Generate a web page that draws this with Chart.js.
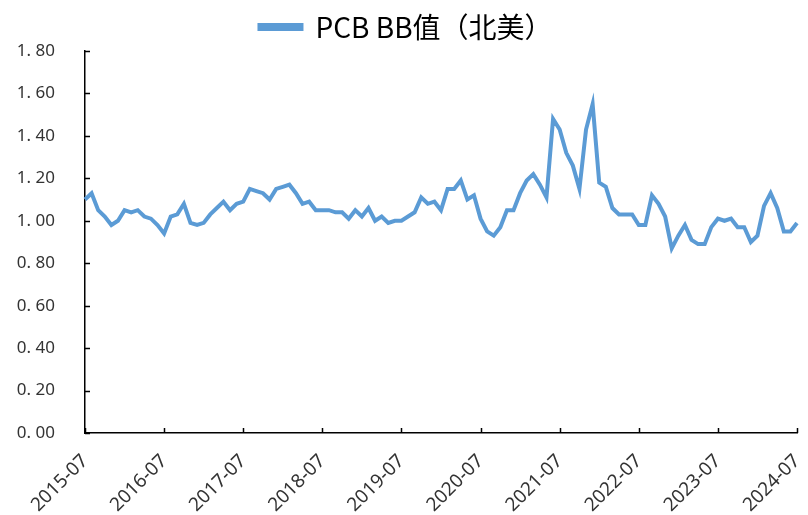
<!DOCTYPE html>
<html>
<head>
<meta charset="utf-8">
<script src="https://cdn.jsdelivr.net/npm/chart.js@4/dist/chart.umd.min.js"></script>
<style>
  html, body { margin: 0; padding: 0; background: #fff; }
  #wrap { width: 808px; height: 515px; }
</style>
</head>
<body>
<div id="wrap"><canvas id="bbChart"></canvas></div>
<script>
var seriesName = 'PCB BB值（北美）';
var startYear = 2015, startMonth = 7, monthCount = 109;
var bbValues = [
    1.10, 1.13, 1.05, 1.02, 0.98, 1.00, 1.05, 1.04, 1.05, 1.02, 1.01, 0.98,
    0.94, 1.02, 1.03, 1.08, 0.99, 0.98, 0.99, 1.03, 1.06, 1.09, 1.05, 1.08,
    1.09, 1.15, 1.14, 1.13, 1.10, 1.15, 1.16, 1.17, 1.13, 1.08, 1.09, 1.05,
    1.05, 1.05, 1.04, 1.04, 1.01, 1.05, 1.02, 1.06, 1.00, 1.02, 0.99, 1.00,
    1.00, 1.02, 1.04, 1.11, 1.08, 1.09, 1.05, 1.15, 1.15, 1.19, 1.10, 1.12,
    1.01, 0.95, 0.93, 0.97, 1.05, 1.05, 1.13, 1.19, 1.22, 1.17, 1.11, 1.48,
    1.43, 1.32, 1.26, 1.15, 1.43, 1.55, 1.18, 1.16, 1.06, 1.03, 1.03, 1.03,
    0.98, 0.98, 1.12, 1.08, 1.02, 0.87, 0.93, 0.98, 0.91, 0.89, 0.89, 0.97,
    1.01, 1.00, 1.01, 0.97, 0.97, 0.90, 0.93, 1.07, 1.13, 1.06, 0.95, 0.95,
    0.99
];
var yMin = 0, yMax = 1.8, yStep = 0.2;

// month labels, e.g. 2015-07
var months = [];
for (var i = 0; i < monthCount; i++) {
    var m = startMonth - 1 + i;
    var y = startYear + Math.floor(m / 12);
    var mm = (m % 12) + 1;
    months.push(y + '-' + (mm < 10 ? '0' + mm : mm));
}

var blue = '#5b9bd5';
var axisColor = '#000';
var textColor = '#333';

// short tick marks pointing into the plot
var innerTicks = {
    id: 'innerTicks',
    afterDraw: function (chart) {
        var ctx = chart.ctx, xs = chart.scales.x, ys = chart.scales.y;
        var area = chart.chartArea;
        ctx.save();
        ctx.strokeStyle = axisColor;
        ctx.lineWidth = 1.5;
        ctx.beginPath();
        ys.ticks.forEach(function (t, i) {
            var py = Math.round(ys.getPixelForTick(i)) + 0.5;
            ctx.moveTo(area.left, py);
            ctx.lineTo(area.left + 5, py);
        });
        for (var k = 0; k < monthCount; k += 12) {
            var px = Math.round(xs.getPixelForValue(k)) + 0.5;
            ctx.moveTo(px, area.bottom);
            ctx.lineTo(px, area.bottom - 5);
        }
        ctx.stroke();
        ctx.restore();
    }
};

new Chart(document.getElementById('bbChart').getContext('2d'), {
    type: 'line',
    data: {
        labels: months,
        datasets: [{
            label: seriesName,
            data: bbValues,
            borderColor: blue,
            backgroundColor: blue,
            borderWidth: 4,
            pointRadius: 0,
            tension: 0,
            fill: false
        }]
    },
    options: {
        responsive: true,
        maintainAspectRatio: false,
        animation: false,
        layout: { padding: { left: 15, right: 11, top: 3, bottom: 0 } },
        plugins: {
            legend: {
                position: 'top',
                labels: {
                    boxWidth: 42,
                    boxHeight: 4,
                    padding: 10,
                    color: '#000',
                    font: { family: '"Noto Sans CJK SC", sans-serif', size: 28 }
                }
            },
            tooltip: { enabled: false }
        },
        scales: {
            x: {
                grid: { display: false, drawTicks: false },
                border: { display: true, color: axisColor, width: 1.5 },
                afterFit: function (s) { s.paddingLeft = 0; s.paddingRight = 0; s.height = 82; },
                ticks: {
                    autoSkip: false,
                    maxRotation: 45,
                    minRotation: 45,
                    padding: 17,
                    color: textColor,
                    font: { family: '"Noto Sans", sans-serif', size: 19 },
                    callback: function (v, i) { return i % 12 === 0 ? months[i] : ''; }
                }
            },
            y: {
                min: yMin,
                max: yMax,
                grid: { display: false, drawTicks: false },
                border: { display: true, color: axisColor, width: 1.5 },
                afterFit: function (s) { s.width = 70; },
                ticks: {
                    stepSize: yStep,
                    padding: 30,
                    color: textColor,
                    font: { family: '"Noto Sans", sans-serif', size: 17 },
                    callback: function (v) { return v.toFixed(2).replace('.', '. '); }
                }
            }
        }
    },
    plugins: [innerTicks]
});
</script>
</body>
</html>
